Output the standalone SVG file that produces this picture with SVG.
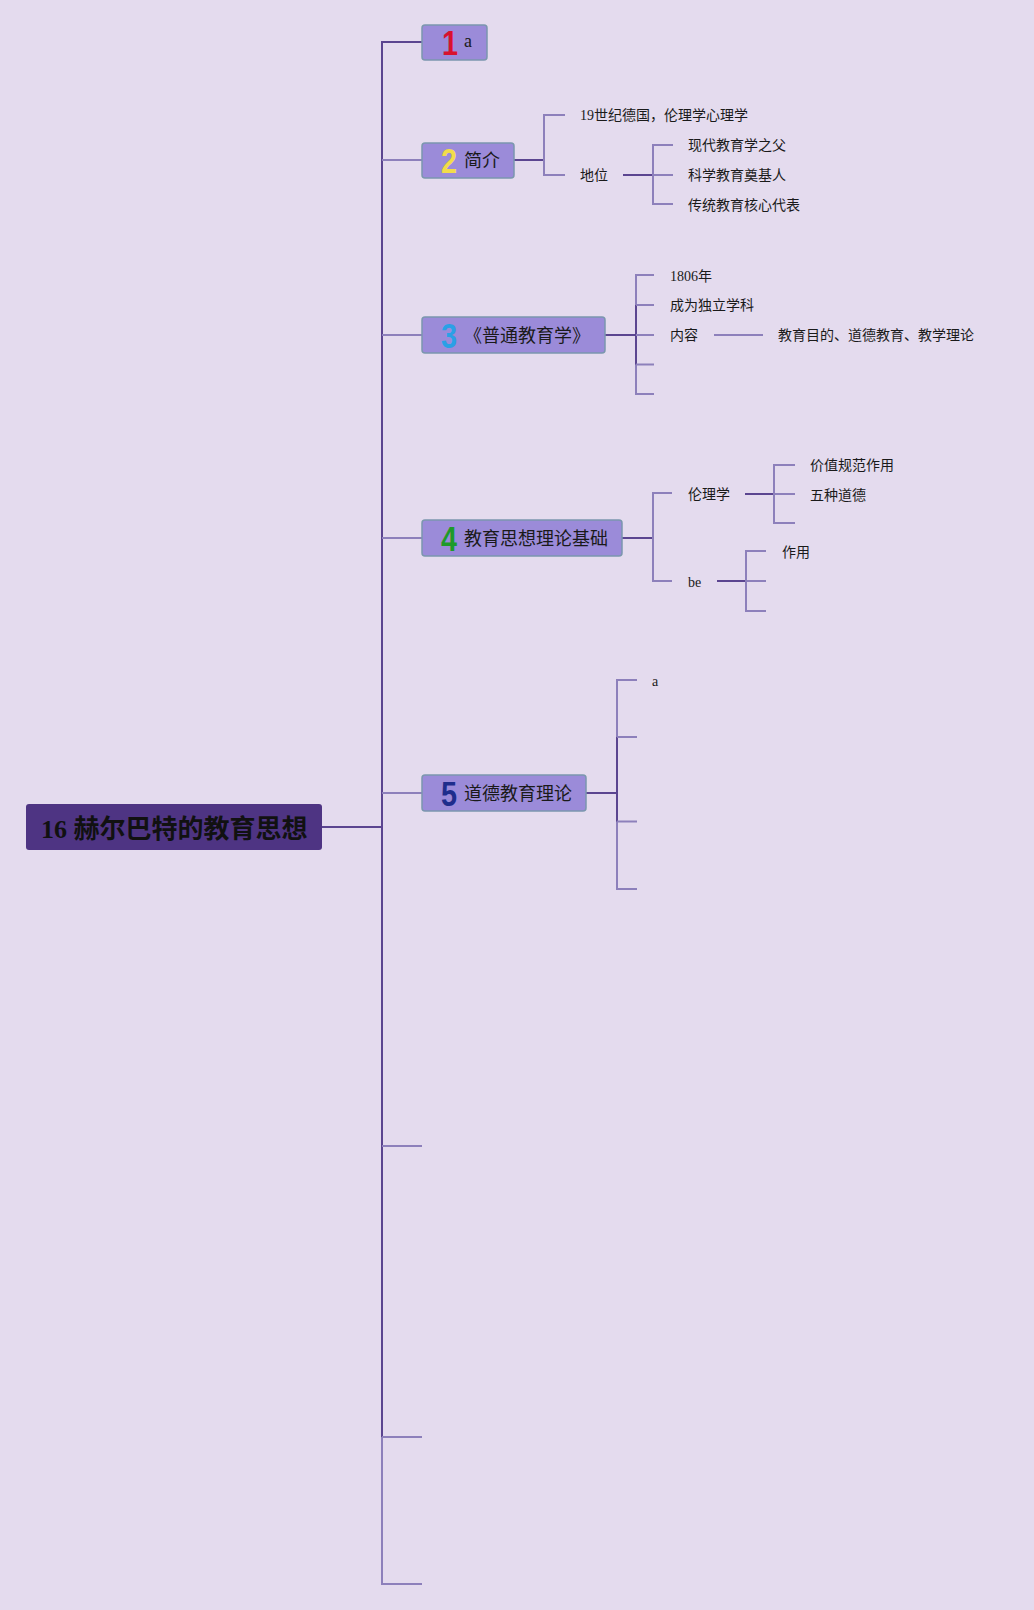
<svg xmlns="http://www.w3.org/2000/svg" width="1034" height="1610" viewBox="0 0 1034 1610">
<style>
.bg{fill:#e4dbee}
.box{fill:#9b8bd9;stroke:#7b97ae;stroke-width:1.5}
.root{fill:#4e3483}
.dk{stroke:#5b4590;stroke-width:2;fill:none}
.lt{stroke:#8d80bb;stroke-width:2;fill:none}
.lbl{font-family:"Noto Sans CJK SC","Liberation Sans",sans-serif;font-size:18px;fill:#1a1a1a}
.sub{font-family:"Liberation Serif","Noto Sans CJK SC",serif;font-size:14px;fill:#1a1a1a}
.num{font-family:"Liberation Sans","DejaVu Sans",sans-serif;font-size:36px;font-weight:bold;text-anchor:middle}
</style>
<rect class="bg" x="0" y="0" width="1034" height="1610"/>

<g id="connectors">
  <!-- root to trunk -->
  <line class="dk" x1="322" y1="827" x2="382" y2="827"/>
  <line class="dk" x1="382" y1="42" x2="382" y2="1437"/>
  <line class="lt" x1="382" y1="1437" x2="382" y2="1584"/>
  <line class="dk" x1="381" y1="42" x2="422" y2="42"/>
  <line class="lt" x1="382" y1="160" x2="422" y2="160"/>
  <line class="lt" x1="382" y1="335" x2="422" y2="335"/>
  <line class="lt" x1="382" y1="538" x2="422" y2="538"/>
  <line class="lt" x1="382" y1="793" x2="422" y2="793"/>
  <line class="lt" x1="382" y1="1146" x2="422" y2="1146"/>
  <line class="lt" x1="382" y1="1437" x2="422" y2="1437"/>
  <line class="lt" x1="381" y1="1584" x2="422" y2="1584"/>

  <!-- box 2 -->
  <line class="dk" x1="514" y1="160" x2="544" y2="160"/>
  <polyline class="lt" points="565,115 544,115 544,175 565,175"/>
  <line class="dk" x1="623" y1="175" x2="653" y2="175"/>
  <polyline class="lt" points="673,145 653,145 653,204 673,204"/>
  <line class="lt" x1="653" y1="175" x2="673" y2="175"/>

  <!-- box 3 -->
  <line class="dk" x1="605" y1="335" x2="636" y2="335"/>
  <polyline class="lt" points="654,275 636,275 636,394 654,394"/>
  <line class="dk" x1="636" y1="305" x2="636" y2="364.5"/>
  <line class="lt" x1="636" y1="305" x2="654" y2="305"/>
  <line class="lt" x1="636" y1="335" x2="654" y2="335"/>
  <line class="lt" x1="636" y1="364.5" x2="654" y2="364.5"/>
  <line class="lt" x1="714" y1="335" x2="763" y2="335"/>

  <!-- box 4 -->
  <line class="dk" x1="622" y1="538" x2="653" y2="538"/>
  <polyline class="lt" points="672,493 653,493 653,581 672,581"/>
  <line class="dk" x1="745" y1="494" x2="774" y2="494"/>
  <polyline class="lt" points="795,465 774,465 774,523 795,523"/>
  <line class="lt" x1="774" y1="494" x2="795" y2="494"/>
  <line class="dk" x1="717" y1="581" x2="746" y2="581"/>
  <polyline class="lt" points="766,551 746,551 746,611 766,611"/>
  <line class="lt" x1="746" y1="581" x2="766" y2="581"/>

  <!-- box 5 -->
  <line class="dk" x1="586" y1="793" x2="617" y2="793"/>
  <polyline class="lt" points="637,680 617,680 617,889 637,889"/>
  <line class="dk" x1="617" y1="737" x2="617" y2="821.5"/>
  <line class="lt" x1="617" y1="737" x2="637" y2="737"/>
  <line class="lt" x1="617" y1="821.5" x2="637" y2="821.5"/>
</g>

<g id="root">
  <rect class="root" x="26" y="804" width="296" height="46" rx="3"/>
  <text x="41" y="838" font-family="Liberation Serif, Noto Sans CJK SC, serif" font-size="26" font-weight="bold" fill="#111">16 赫尔巴特的教育思想</text>
</g>

<g id="node1">
  <rect class="box" x="422" y="25" width="65" height="35" rx="3"/>
  <text class="num" transform="translate(450 55) scale(0.8 1)" fill="#d8122e">1</text>
  <text x="464" y="47" font-family="Liberation Serif, serif" font-size="18" fill="#1a1a1a">a</text>
</g>

<g id="node2">
  <rect class="box" x="422" y="143" width="92" height="35" rx="3"/>
  <text class="num" transform="translate(449 173) scale(0.8 1)" fill="#f2dc4a">2</text>
  <text class="lbl" x="464" y="167">简介</text>
</g>
<g id="node2-1"><text class="sub" x="580" y="120">19世纪德国，伦理学心理学</text></g>
<g id="node2-2"><text class="sub" x="580" y="180">地位</text></g>
<g id="node2-2-1"><text class="sub" x="688" y="150">现代教育学之父</text></g>
<g id="node2-2-2"><text class="sub" x="688" y="180">科学教育奠基人</text></g>
<g id="node2-2-3"><text class="sub" x="688" y="210">传统教育核心代表</text></g>

<g id="node3">
  <rect class="box" x="422" y="317" width="183" height="36" rx="3"/>
  <text class="num" transform="translate(449 348) scale(0.8 1)" fill="#2aa0e6">3</text>
  <text class="lbl" x="464" y="342">《普通教育学》</text>
</g>
<g id="node3-1"><text class="sub" x="670" y="281">1806年</text></g>
<g id="node3-2"><text class="sub" x="670" y="310">成为独立学科</text></g>
<g id="node3-3"><text class="sub" x="670" y="340">内容</text></g>
<g id="node3-3-1"><text class="sub" x="778" y="340">教育目的、道德教育、教学理论</text></g>

<g id="node4">
  <rect class="box" x="422" y="520" width="200" height="36" rx="3"/>
  <text class="num" transform="translate(449 551) scale(0.8 1)" fill="#1e9a2a">4</text>
  <text class="lbl" x="464" y="545">教育思想理论基础</text>
</g>
<g id="node4-1"><text class="sub" x="688" y="499">伦理学</text></g>
<g id="node4-1-1"><text class="sub" x="810" y="470">价值规范作用</text></g>
<g id="node4-1-2"><text class="sub" x="810" y="500">五种道德</text></g>
<g id="node4-2"><text class="sub" x="688" y="587">be</text></g>
<g id="node4-2-1"><text class="sub" x="782" y="557">作用</text></g>

<g id="node5">
  <rect class="box" x="422" y="775" width="164" height="36" rx="3"/>
  <text class="num" transform="translate(449 806) scale(0.8 1)" fill="#1f2d8c">5</text>
  <text class="lbl" x="464" y="800">道德教育理论</text>
</g>
<g id="node5-1"><text class="sub" x="652" y="686">a</text></g>
</svg>
